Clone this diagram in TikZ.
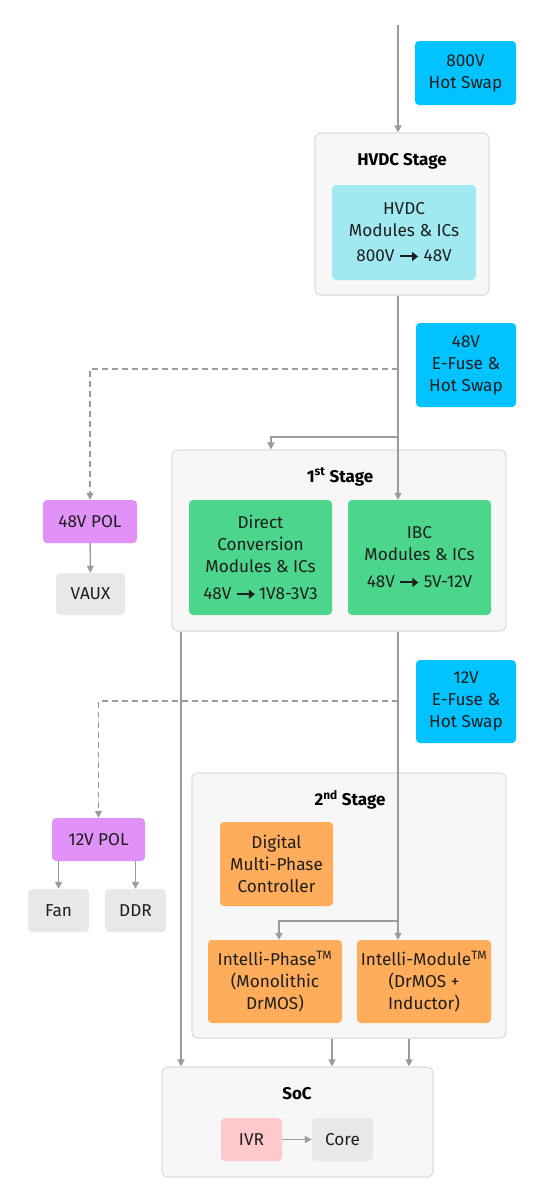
\documentclass[tikz,border=0pt]{standalone}
\usepackage{fontspec}
\setmainfont{Fira Sans}
\usetikzlibrary{arrows.meta,calc}
\definecolor{cblue}{HTML}{00C3FF}
\definecolor{ccyan}{HTML}{A0E9F0}
\definecolor{cgreen}{HTML}{4CD68C}
\definecolor{corange}{HTML}{FFAD5A}
\definecolor{cpurple}{HTML}{E092F8}
\definecolor{cpink}{HTML}{FFC9CC}
\definecolor{cgray}{HTML}{E8E8E8}
\definecolor{cpanel}{HTML}{F7F7F7}
\definecolor{cpanelb}{HTML}{DDDDDD}
\definecolor{cline}{HTML}{9B9B9B}
\definecolor{ctext}{HTML}{1E1E1E}
\newcommand{\barr}{\tikz[baseline=-0.6ex]{\draw[line width=2pt,-{Triangle[length=6pt,width=9pt]},ctext] (0,0)--(18pt,0);}}
\tikzset{
  box/.style={rounded corners=4, inner sep=1pt, align=center, text=ctext, font=\fontsize{17.2}{22}\selectfont},
  panel/.style={fill=cpanel, draw=cpanelb, line width=1.2pt, rounded corners=6},
  ttl/.style={font=\bfseries\fontsize{17}{20}\selectfont, text=black},
  arr/.style={draw=cline, line width=1.4pt, -{Triangle[length=7pt,width=7pt]}},
  dsh/.style={draw=cline, line width=1.4pt, dash pattern=on 6pt off 4pt, -{Triangle[length=7pt,width=7pt]}},
}
\begin{document}
\begin{tikzpicture}[x=1pt,y=-1pt]
\useasboundingbox (0,0) rectangle (542,1200);
% panels
\node[panel, minimum width=174, minimum height=162] (hvdc) at (402,214) {};
\node[panel, minimum width=334, minimum height=181] (stage1) at (339,540.5) {};
\node[panel, minimum width=314, minimum height=265] (stage2) at (349,905.5) {};
\node[panel, minimum width=271, minimum height=110] (soc) at (297.5,1122) {};
% titles
\node[ttl] (hvdct) at (402,161) {HVDC Stage};
\node[ttl] (s1t) at (340,477) {1\textsuperscript{st} Stage};
\node[ttl] (s2t) at (350,800) {2\textsuperscript{nd} Stage};
\node[ttl] (soct) at (297,1094) {SoC};
% boxes
\node[box, fill=cblue, minimum width=101, minimum height=64] (hs800) at (465.5,73) {800V\\Hot Swap};
\node[box, fill=ccyan, minimum width=144, minimum height=95] (hvdcmod) at (404,232.5) {HVDC\\Modules \& ICs\\[3pt]800V \barr\ 48V};
\node[box, fill=cblue, minimum width=100, minimum height=84] (ef48) at (466,365) {48V\\E-Fuse \&\\Hot Swap};
\node[box, fill=cpurple, minimum width=94, minimum height=43] (pol48) at (90,521.5) {48V POL};
\node[box, fill=cgray, minimum width=69, minimum height=42] (vaux) at (90.5,594) {VAUX};
\node[box, fill=cgreen, minimum width=143, minimum height=115] (dc) at (260.5,557.5) {Direct\\Conversion\\Modules \& ICs\\[5pt]48V \barr\,1V8-3V3};
\node[box, fill=cgreen, minimum width=143, minimum height=115] (ibc) at (419.5,557.5) {IBC\\Modules \& ICs\\[5pt]48V \barr\ 5V-12V};
\node[box, fill=cblue, minimum width=100, minimum height=83] (ef12) at (466,701.5) {12V\\E-Fuse \&\\Hot Swap};
\node[box, fill=cpurple, minimum width=93, minimum height=43] (pol12) at (98.5,839.5) {12V POL};
\node[box, fill=cgray, minimum width=61, minimum height=43] (fan) at (58.5,910.5) {Fan};
\node[box, fill=cgray, minimum width=61, minimum height=43] (ddr) at (135.5,910.5) {DDR};
\node[box, fill=corange, minimum width=113, minimum height=84] (ctrl) at (276.5,864) {Digital\\Multi-Phase\\Controller};
\node[box, fill=corange, minimum width=134, minimum height=83] (iph) at (275,981.5) {Intelli-Phase\textsuperscript{TM}\\(Monolithic\\DrMOS)};
\node[box, fill=corange, minimum width=134, minimum height=83] (imod) at (424,981.5) {Intelli-Module\textsuperscript{TM}\\(DrMOS +\\Inductor)};
\node[box, fill=cpink, minimum width=61, minimum height=43] (ivr) at (251.5,1139.5) {IVR};
\node[box, fill=cgray, minimum width=61, minimum height=43] (core) at (342.5,1139.5) {Core};
% coordinates
\coordinate (top) at (398,25);
\coordinate (j1) at (398,369);
\coordinate (j2) at (398,437);
\coordinate (s1in) at (271,0);
\coordinate (l1) at (181,0);
\coordinate (j3) at (398,701);
\coordinate (j4) at (398,921);
\coordinate (iphin) at (279,0);
\coordinate (o1) at (332,0);
\coordinate (o2) at (409,0);
% connectors
\draw[arr] (top) -- (top |- hvdc.north);
\draw[arr] (hvdc.south -| top) -- (ibc.north -| top);
\draw[dsh] (j1) -| (pol48.north);
\draw[arr] (j2) -| (s1in |- stage1.north);
\draw[arr] (pol48) -- (vaux);
\draw[arr] (stage1.south -| l1) -- (soc.north -| l1);
\draw[arr] (stage1.south -| top) -- (imod.north -| top);
\draw[dsh] (j3) -| (pol12.north);
\draw[arr] (pol12.south -| fan) -- (fan);
\draw[arr] (pol12.south -| ddr) -- (ddr);
\draw[arr] (j4) -| (iphin |- iph.north);
\draw[arr] (stage2.south -| o1) -- (soc.north -| o1);
\draw[arr] (stage2.south -| o2) -- (soc.north -| o2);
\draw[arr] (ivr) -- (core);
\end{tikzpicture}
\end{document}
